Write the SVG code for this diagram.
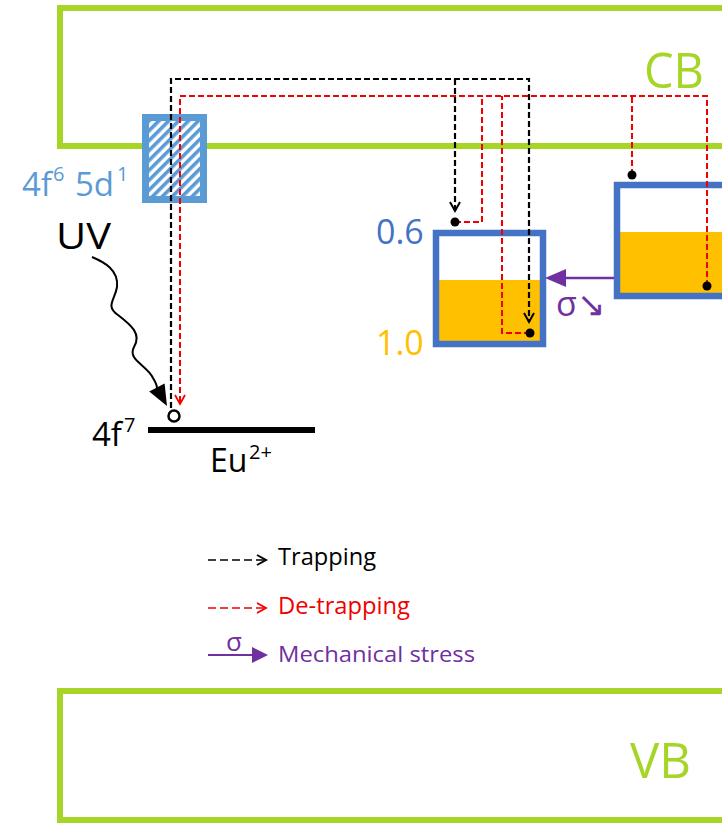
<svg xmlns="http://www.w3.org/2000/svg" width="722" height="823" viewBox="0 0 722 823">
<style>
text{font-family:"Open Sans","Liberation Sans",sans-serif;}
.band{fill:none;stroke:#a6d528;stroke-width:6;}
.bandlbl{fill:#a6d528;font-size:50px;}
.trap{fill:none;stroke:#000;stroke-width:2.2;stroke-dasharray:6 3;}
.detrap{fill:none;stroke:#f00000;stroke-width:2;stroke-dasharray:6 3;}
.dot{fill:#000;}
.box{stroke:#4472c4;stroke-width:6.5;}
.purple{fill:#7030a0;}
</style>
<defs>
<pattern id="hatch" width="7" height="7" patternUnits="userSpaceOnUse" patternTransform="rotate(45)">
<rect width="7" height="7" fill="#ffffff"/>
<rect width="3.6" height="7" fill="#5b9bd5"/>
</pattern>
<marker id="chevK" markerWidth="14" markerHeight="14" refX="10" refY="6" orient="auto" markerUnits="userSpaceOnUse">
<path d="M1,1 L10,6 L1,11" fill="none" stroke="#000" stroke-width="2"/>
</marker>
<marker id="chevR" markerWidth="14" markerHeight="14" refX="10" refY="6" orient="auto" markerUnits="userSpaceOnUse">
<path d="M1,1 L10,6 L1,11" fill="none" stroke="#f00000" stroke-width="1.8"/>
</marker>
</defs>

<g id="CB">
<rect class="band" x="60" y="8" width="700" height="138"/>
<text class="bandlbl" x="644" y="88" textLength="60" lengthAdjust="spacingAndGlyphs">CB</text>
</g>

<g id="VB">
<rect class="band" x="60" y="691" width="700" height="129"/>
<text class="bandlbl" x="630" y="778" textLength="61" lengthAdjust="spacingAndGlyphs">VB</text>
</g>

<g id="excited">
<rect x="145.5" y="117.5" width="58" height="82" fill="url(#hatch)" stroke="#5b9bd5" stroke-width="7"/>
<text fill="#5b9bd5" font-size="33"><tspan x="22" y="196">4f</tspan><tspan x="53" y="181" font-size="20">6</tspan><tspan x="75" y="196">5d</tspan><tspan x="117" y="181" font-size="20">1</tspan></text>
</g>

<g id="ground">
<line x1="148" y1="430" x2="315" y2="430" stroke="#000" stroke-width="6"/>
<circle cx="174" cy="416" r="5.5" fill="#fff" stroke="#000" stroke-width="2.5"/>
<text fill="#000" font-size="33"><tspan x="92" y="446">4f</tspan><tspan x="124" y="432" font-size="20">7</tspan></text>
<text fill="#000" font-size="32"><tspan x="210" y="472">Eu</tspan><tspan x="249" y="459" font-size="20">2+</tspan></text>
</g>

<g id="uv">
<text x="56" y="249" font-size="36" fill="#000" textLength="55" lengthAdjust="spacingAndGlyphs">UV</text>
<path d="M92,257 C104,262 119,270 117,287 C115,300 105,306 118,315 C131,325 142,334 134,347 C127,360 147,365 153,378 C156,383 157,386 157,388" fill="none" stroke="#000" stroke-width="2"/>
<path d="M167,406 L164.6,383.6 L149.2,391.4 Z" fill="#000"/>
</g>

<g id="trap1">
<rect x="436" y="233" width="107" height="111" fill="#fff"/>
<rect x="436" y="280" width="107" height="64" fill="#ffc000"/>
<rect class="box" x="436" y="233" width="107" height="111" fill="none"/>
<text x="376" y="244" font-size="34" fill="#4472c4">0.6</text>
<text x="376" y="355" font-size="34" fill="#ffc000">1.0</text>
</g>

<g id="trap2">
<rect x="617" y="185" width="120" height="111" fill="#fff"/>
<rect x="617" y="232" width="120" height="64" fill="#ffc000"/>
<rect class="box" x="617" y="185" width="120" height="111" fill="none"/>
</g>

<g id="connectors">
<path class="trap" d="M171,408 V79 H529 V322" marker-end="url(#chevK)"/>
<path class="trap" d="M455,79 V211" marker-end="url(#chevK)"/>
<path class="detrap" d="M707,286 V96 H180 V404" marker-end="url(#chevR)"/>
<path class="detrap" d="M455,222 H482 V96"/>
<path class="detrap" d="M530,333 H502 V96"/>
<path class="detrap" d="M632,175 V96"/>
<circle class="dot" cx="455" cy="222" r="4.5"/>
<circle class="dot" cx="530" cy="333" r="4.5"/>
<circle class="dot" cx="632" cy="175" r="4.5"/>
<circle class="dot" cx="707" cy="286" r="4.5"/>
<line x1="614" y1="278" x2="562" y2="278" stroke="#7030a0" stroke-width="2.5"/>
<path class="purple" d="M545,278 L566,269 L566,287 Z"/>
<text x="556" y="316" font-size="34" class="purple">σ↘</text>
</g>

<g id="legend">
<path d="M208,560 H266" fill="none" stroke="#000" stroke-width="1.6" stroke-dasharray="8 4" marker-end="url(#chevK)"/>
<text x="278" y="565" font-size="23" fill="#000" textLength="98" lengthAdjust="spacingAndGlyphs">Trapping</text>
<path d="M208,608 H266" fill="none" stroke="#f00000" stroke-width="1.6" stroke-dasharray="8 4" marker-end="url(#chevR)"/>
<text x="278" y="614" font-size="23" fill="#f00000" textLength="132" lengthAdjust="spacingAndGlyphs">De-trapping</text>
<line x1="208" y1="655" x2="254" y2="655" stroke="#7030a0" stroke-width="2"/>
<path class="purple" d="M268,655 L252,647 L252,663 Z"/>
<text x="226" y="651" font-size="26" class="purple">σ</text>
<text x="278" y="662" font-size="21" class="purple" textLength="197" lengthAdjust="spacingAndGlyphs">Mechanical stress</text>
</g>
</svg>
